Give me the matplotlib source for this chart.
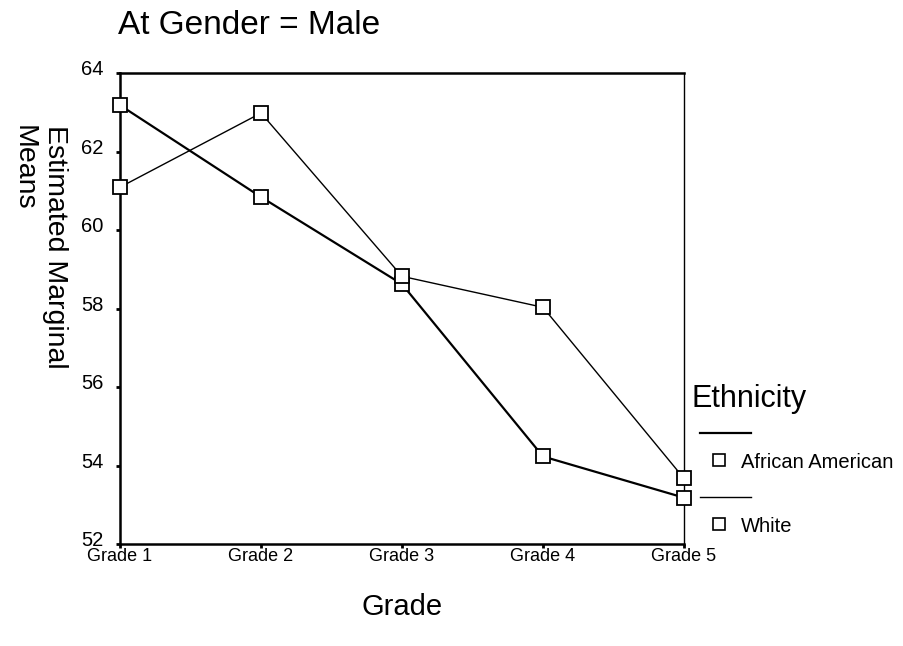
import matplotlib.pyplot as plt
from matplotlib.lines import Line2D
from matplotlib.transforms import ScaledTranslation

plt.rcParams['font.family'] = ['Liberation Sans', 'DejaVu Sans']

grades = ["Grade 1", "Grade 2", "Grade 3", "Grade 4", "Grade 5"]
african_american = [63.18, 60.84, 58.62, 54.23, 53.18]
white = [61.09, 62.98, 58.82, 58.03, 53.67]
ethnicity = ["African American", "White"]

fig = plt.figure(figsize=(9.04, 6.46), dpi=100)
ax = fig.add_axes([120 / 904, 102 / 646, 564 / 904, 471 / 646])

x = range(len(grades))
ax.plot(x, african_american, color="black", lw=1.6, marker="s", ms=10,
        mfc="white", mec="black", mew=1.3, clip_on=False, zorder=3)
ax.plot(x, white, color="black", lw=1.0, marker="s", ms=10,
        mfc="white", mec="black", mew=1.3, clip_on=False, zorder=3)

ax.set_xlim(0, len(grades) - 1)
ax.set_ylim(52, 64)
ax.set_xticks(list(x))
ax.set_xticklabels(grades, fontsize=13)
ax.set_yticks(range(52, 65, 2))
ax.tick_params(axis="y", labelsize=14.5, length=3, width=2, pad=9)
ax.tick_params(axis="x", length=3, width=2, pad=0)
# SPSS puts the y labels a little above their ticks
shift = ScaledTranslation(0, 5 / 100, fig.dpi_scale_trans)
for lab in ax.get_yticklabels():
    lab.set_transform(lab.get_transform() + shift)
for s in ["left", "bottom", "top"]:
    ax.spines[s].set_linewidth(1.8)
ax.spines["right"].set_linewidth(1.0)

ax.set_xlabel("Grade", fontsize=21, labelpad=20)
fig.text(39 / 904, 1 - 125 / 646, "Estimated Marginal\nMeans", rotation=270, fontsize=20.5,
         ha="center", va="top", multialignment="left", linespacing=1.25)
fig.text(118 / 904, 1 - 34 / 646, "At Gender = Male", fontsize=24,
         ha="left", va="baseline")

# legend, SPSS style: line segment above each marker
fig.text(691 / 904, 1 - 399 / 646, "Ethnicity", fontsize=22, ha="left", va="center")
for i, (name, lw) in enumerate(zip(ethnicity, [1.6, 1.0])):
    y_line = 1 - (433 + i * 64) / 646
    y_mark = 1 - (460 + i * 64) / 646
    fig.add_artist(Line2D([700 / 904, 751 / 904], [y_line, y_line], color="black", lw=lw))
    fig.add_artist(Line2D([719 / 904], [y_mark], marker="s", ms=9, mfc="white",
                          mec="black", mew=1.2, ls="none"))
    fig.text(741 / 904, 1 - (463 + i * 63) / 646, name, fontsize=14.5,
             ha="left", va="center")

fig.savefig("out.png", dpi=100)
